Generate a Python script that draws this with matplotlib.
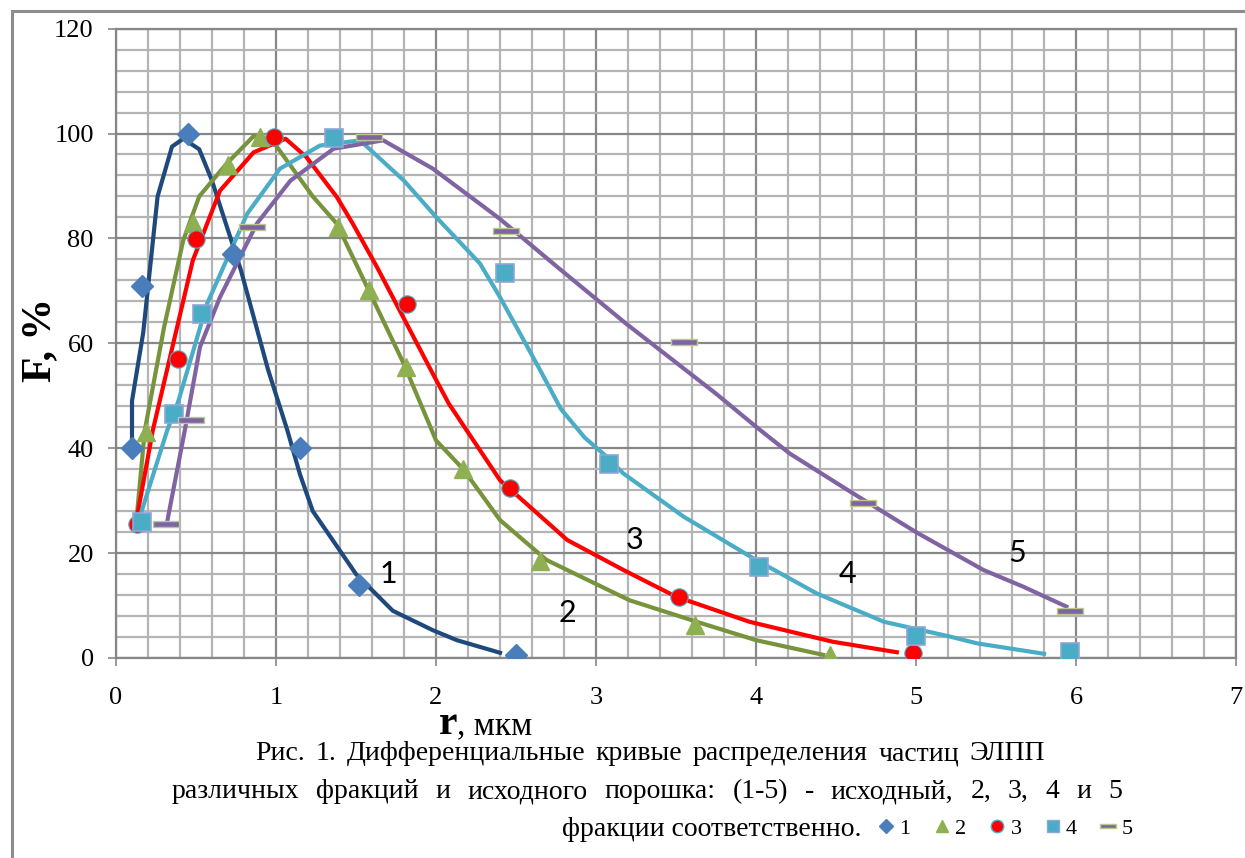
import matplotlib
matplotlib.use("Agg")
import matplotlib.pyplot as plt
import matplotlib.patches as mpatches
from matplotlib.lines import Line2D
import numpy as np

W, H = 1245, 858

# measured points (markers)
r1 = [0.1, 0.16, 0.45, 0.73, 1.15, 1.52, 2.5]
f1 = [40, 71, 100, 77, 40, 14, 0.5]
r2 = [0.19, 0.48, 0.70, 0.9, 1.39, 1.58, 1.81, 2.17, 2.65, 3.62, 4.46]
f2 = [43, 83, 94, 99.3, 82.2, 70.1, 55.4, 36.1, 18.5, 6.3, 0.5]
r3 = [0.13, 0.39, 0.5, 0.99, 1.82, 2.46, 3.52, 4.98]
f3 = [25.5, 57, 79.8, 99.4, 67.4, 32.5, 11.6, 0.9]
r4 = [0.16, 0.36, 0.54, 1.36, 2.43, 3.08, 4.02, 5.0, 5.96]
f4 = [26, 46.6, 65.5, 99.2, 73.4, 37, 17.4, 4.1, 1.1]
r5 = [0.31, 0.47, 0.85, 1.58, 2.44, 3.55, 4.67, 5.96]
f5 = [25.5, 45.3, 82.2, 99.4, 81.4, 60.3, 29.5, 9.0]

# fitted curves (lines)
c1x = [0.1, 0.1, 0.17, 0.26, 0.35, 0.42, 0.52, 0.6, 0.78, 0.95, 1.07, 1.15,
       1.23, 1.5, 1.73, 1.98, 2.13, 2.4]
c1y = [41, 49, 62, 88, 97.5, 99, 97, 91, 74, 55, 43.5, 35, 28, 16, 9, 5.3,
       3.4, 1]
c2x = [0.13, 0.18, 0.3, 0.42, 0.52, 0.69, 0.86, 1.0, 1.23, 1.38, 1.57, 1.8,
       2.0, 2.17, 2.4, 2.69, 3.21, 3.63, 4.0, 4.42]
c2y = [27, 43.4, 63, 79.6, 88, 94.2, 99.5, 97.7, 88, 82.8, 70.7, 56, 41.5,
       36, 26.3, 18.7, 11, 6.9, 3.4, 0.6]
c3x = [0.12, 0.23, 0.48, 0.65, 0.86, 0.96, 1.06, 1.19, 1.38, 1.48, 1.63,
       1.75, 1.98, 2.08, 2.4, 2.82, 3.17, 3.5, 3.96, 4.48, 4.88]
c3y = [25, 43.4, 75.8, 89.1, 96.4, 97.7, 99, 95.5, 87.9, 82.8, 74.6, 67.6,
       54.2, 48.5, 33.9, 22.5, 16.8, 11.7, 6.9, 3.1, 1.1]
c4x = [0.15, 0.32, 0.39, 0.57, 0.82, 1.025, 1.275, 1.525, 1.8, 2.0, 2.275,
       2.4, 2.64, 2.78, 2.93, 3.07, 3.17, 3.55, 4.0, 4.38, 4.8, 5.21, 5.38, 5.8]
c4y = [27, 43.4, 49, 67.6, 84.7, 93.3, 97.7, 98.7, 91, 84.1, 75.2, 68.8,
       55.5, 47.5, 42, 38.3, 35.2, 26.9, 18.7, 12.3, 6.9, 4.1, 2.8, 0.8]
c5x = [0.32, 0.43, 0.525, 0.65, 0.88, 1.09, 1.36, 1.67, 1.98, 2.3, 2.4, 2.76,
       3.19, 3.75, 4.0, 4.21, 4.59, 5.0, 5.42, 5.67, 5.94]
c5y = [26, 43.4, 59.3, 68.8, 82.8, 91, 97.1, 98.7, 93.3, 86, 83.7, 74.5,
       63.7, 50.4, 44.1, 39, 31.7, 24, 16.8, 13.6, 9.8]

curve_labels = ["1", "2", "3", "4", "5"]
label_pos = [(1.7, 16), (2.82, 8.5), (3.24, 22.5), (4.57, 16), (5.63, 20)]

caption = [
    "Рис. 1.  Дифференциальные кривые распределения частиц ЭЛПП",
    "различных фракций и исходного порошка: (1-5) - исходный, 2, 3, 4 и 5",
    "фракции соответственно.",
]

dash = [(-1, -0.24), (1, -0.24), (1, 0.24), (-1, 0.24), (-1, -0.24)]
CAP = dict(fontsize=20, family="Liberation Serif")


def justify(fig, text, x0, x1, y):
    """Place words of a caption line so they fill x0..x1 (pixels)."""
    renderer = fig.canvas.get_renderer()
    words = text.split()
    arts = [fig.text(0, 1 - y / H, w, ha="left", va="baseline", **CAP)
            for w in words]
    widths = [a.get_window_extent(renderer).width for a in arts]
    gap = (x1 - x0 - sum(widths)) / (len(words) - 1)
    x = x0
    for a, wd in zip(arts, widths):
        a.set_x(x / W)
        x += wd + gap


fig = plt.figure(figsize=(W / 100, H / 100), dpi=100)
ax = fig.add_axes([116 / W, 1 - 658 / H, 1120 / W, (658 - 28.6) / H])

# outer frame of the picture
fig.patches.append(mpatches.Rectangle(
    (12 / W, -0.1), 1.2, 1 - 11 / H + 0.1, transform=fig.transFigure,
    fill=False, edgecolor="#8c8c8c", linewidth=2.2))

ax.set_xlim(0, 7)
ax.set_ylim(0, 120)
ax.set_xticks(np.arange(0, 8, 1))
ax.set_yticks(np.arange(0, 121, 20))
ax.set_xticks(np.arange(0, 7.01, 0.2), minor=True)
ax.set_yticks(np.arange(0, 121, 4), minor=True)
ax.grid(which="minor", color="#b4b4b4", linewidth=1.6)
ax.grid(which="major", color="#878787", linewidth=1.6)
ax.set_axisbelow(True)
for s in ax.spines.values():
    s.set_color("#878787")
    s.set_linewidth(1.6)
ax.tick_params(which="major", length=6, width=1.2, color="#878787",
               labelsize=19, labelcolor="black")
ax.tick_params(axis="x", which="major", pad=15)
ax.tick_params(axis="y", which="major", pad=10)
ax.tick_params(which="minor", length=0)
for lab in ax.get_xticklabels() + ax.get_yticklabels():
    lab.set_fontfamily("Liberation Serif")

lw = 3.0
ax.plot(c1x, c1y, color="#1f497d", lw=lw, solid_joinstyle="round")
ax.plot(c2x, c2y, color="#77933c", lw=lw, solid_joinstyle="round")
ax.plot(c3x, c3y, color="#ff0000", lw=lw, solid_joinstyle="round")
ax.plot(c4x, c4y, color="#4bacc6", lw=lw, solid_joinstyle="round")
ax.plot(c5x, c5y, color="#8064a2", lw=lw, solid_joinstyle="round")

mk = dict(linestyle="none", zorder=4)
ax.plot(r1, f1, marker="D", ms=11, mfc="#4a7ebb", mec="#4a7ebb", **mk)
ax.plot(r2, f2, marker="^", ms=13, mfc="#8eb050", mec="#8eb050", **mk)
ax.plot(r3, f3, marker="o", ms=12.5, mfc="#ff0000", mec="#4bacc6", mew=0.8, **mk)
ax.plot(r4, f4, marker="s", ms=12.5, mfc="#4bacc6", mec="#8ea6d8", mew=1.2, **mk)
ax.plot(r5, f5, marker=dash, ms=19, mfc="#8064a2", mec="#b5cc8e", mew=1.0, **mk)

for lab, (x, y) in zip(curve_labels, label_pos):
    ax.text(x, y, lab, fontsize=22, family="Lato", ha="center", va="center")

# axis titles
fig.text(40 / W, 1 - 340 / H, "F, %", rotation=90, fontsize=30,
         family="Liberation Serif", fontweight="bold", ha="center", va="center")
fig.text(448 / W, 1 - 734 / H, "r", fontsize=30, family="Liberation Serif",
         fontweight="bold", ha="center", va="baseline")
fig.text(457 / W, 1 - 734 / H, ", мкм", fontsize=24, family="Liberation Serif",
         ha="left", va="baseline")

# caption (first two lines justified like the source document)
justify(fig, caption[0], 255, 1045, 760)
justify(fig, caption[1], 172, 1122, 798)
fig.text(562 / W, 1 - 836 / H, caption[2], ha="left", va="baseline", **CAP)

handles = [
    Line2D([], [], ls="none", marker="D", ms=7, mfc="#4a7ebb", mec="#4a7ebb"),
    Line2D([], [], ls="none", marker="^", ms=9, mfc="#8eb050", mec="#8eb050"),
    Line2D([], [], ls="none", marker="o", ms=9, mfc="#ff0000", mec="#4bacc6"),
    Line2D([], [], ls="none", marker="s", ms=9, mfc="#4bacc6", mec="#8ea6d8"),
    Line2D([], [], ls="none", marker=dash, ms=12, mfc="#8064a2", mec="#b5cc8e"),
]
fig.legend(handles, curve_labels, loc="center", ncol=5, frameon=False,
           bbox_to_anchor=(1005 / W, 1 - 829 / H),
           prop={"family": "Liberation Serif", "size": 16},
           handlelength=0.8, handletextpad=0.2, columnspacing=1.0)

fig.savefig("out.png", dpi=100)
